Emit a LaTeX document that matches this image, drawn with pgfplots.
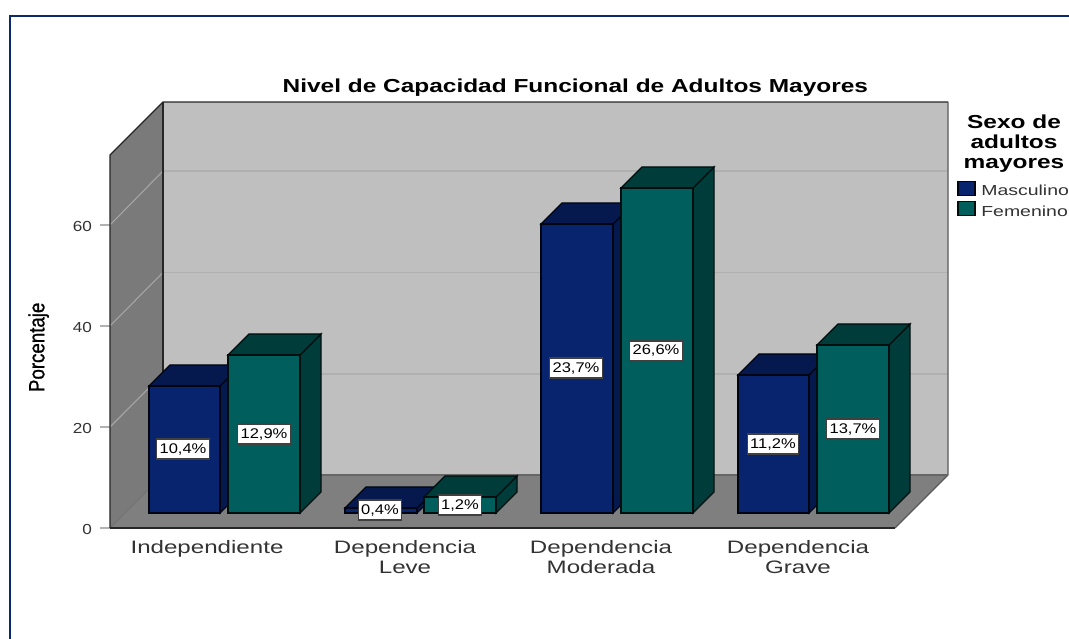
\documentclass[border=0pt]{standalone}
\usepackage{pgfplots}
\pgfplotsset{compat=1.18}
\usepackage{fontspec}
\setmainfont{Liberation Sans}
\newfontfamily\fwide[FakeStretch=1.34]{Liberation Sans}
\newfontfamily\fsmall[FakeStretch=1.18]{Liberation Sans}
\newfontfamily\fbold[FakeStretch=1.3]{Liberation Sans Bold}
\newfontfamily\fnarrow[FakeStretch=0.85,FakeBold=0.9]{Liberation Sans}
\definecolor{wallback}{HTML}{BFBFBF}
\definecolor{wallside}{HTML}{7A7A7A}
\definecolor{floorc}{HTML}{7F7F7F}
\definecolor{mfront}{HTML}{09246F}
\definecolor{mdark}{HTML}{06194F}
\definecolor{ffront}{HTML}{005F5C}
\definecolor{fdark}{HTML}{003C39}
\definecolor{framec}{HTML}{0B2A6E}
\definecolor{txt}{HTML}{333333}
\definecolor{gridc}{HTML}{B0B0B0}
\tikzset{
  mf/.style={fill=mfront,draw=black!85!mfront,line width=1pt},
  md/.style={fill=mdark,draw=black!85!mfront,line width=1pt},
  ff/.style={fill=ffront,draw=black!85!ffront,line width=1pt},
  fd/.style={fill=fdark,draw=black!85!ffront,line width=1pt},
  lab/.style={fill=white,draw=black!75,line width=0.8pt,font=\fontsize{10.5}{12}\fsmall\color{black},inner xsep=2.2pt,inner ysep=0pt,minimum height=15pt},
}
\begin{document}
\begin{tikzpicture}
\path[use as bounding box,fill=white] (0,0) rectangle (801.75pt,478.5pt);
\draw[framec,line width=1.5pt] (7.5pt,-1pt) -- (7.5pt,466.5pt) -- (803pt,466.5pt);
\begin{axis}[
  at={(82.5pt,82.5pt)},anchor=south west,
  scale only axis,width=628.5pt,height=319.5pt,
  xmin=110,xmax=948,ymin=0,ymax=84.36,
  clip=false,
  axis line style={draw=none},
  xtick={207,405,601,798},
  xticklabels={Independiente,Dependencia\\Leve,Dependencia\\Moderada,Dependencia\\Grave},
  x tick label style={align=center,font=\fontsize{13.5}{15}\fwide\color{txt},yshift=1.5pt},
  x tick style={draw=none},
  major tick length=7.5pt,
  tick align=outside,
  xtick pos=bottom,ytick pos=left,
  ytick={0,20,40,60},
  y tick style={draw=black!30,line width=0.8pt},
  y tick label style={font=\fontsize{10.9}{12}\fsmall\color{txt},xshift=-2.5pt,yshift=-1.2pt},
  /pgf/number format/assume math mode=true,
]
% walls and floor
\addplot[fill=wallback,draw=none] coordinates {(163,10.5)(948,10.5)(948,84.36)(163,84.36)} -- cycle;
\addplot[fill=wallside,draw=none] coordinates {(110,0)(163,10.5)(163,84.36)(110,73.86)} -- cycle;
\addplot[fill=floorc,draw=none] coordinates {(110,0)(895,0)(948,10.5)(163,10.5)} -- cycle;
% grid
\addplot[draw=gridc,line width=0.8pt] coordinates {(163,30.5)(948,30.5)};
\addplot[draw=gridc,line width=0.8pt] coordinates {(163,50.6)(948,50.6)};
\addplot[draw=gridc,line width=0.8pt] coordinates {(163,70.7)(948,70.7)};
\addplot[draw=black!35,line width=0.8pt] coordinates {(110,20)(163,30.5)};
\addplot[draw=black!35,line width=0.8pt] coordinates {(110,40)(163,50.6)};
\addplot[draw=black!35,line width=0.8pt] coordinates {(110,60)(163,70.7)};
\addplot[draw=black!55,line width=0.8pt] coordinates {(110,0)(163,10.5)};
% frame edges
\addplot[draw=black!85,line width=1pt] coordinates {(110,0)(110,73.86)(163,84.36)(948,84.36)};
\addplot[draw=black!65,line width=0.9pt] coordinates {(948,84.36)(948,10.5)(895,0)};
\addplot[draw=black!85,line width=1.8pt] coordinates {(163,10.5)(163,84.36)};
\addplot[draw=black!85,line width=1.8pt] coordinates {(110,0)(895,0)};
\addplot[draw=black!60,line width=0.8pt] coordinates {(163,10.5)(948,10.5)};
% Independiente M
\addplot[md] coordinates {(220,2.97)(241,7.13)(241,32.28)(220,28.12)} -- cycle;
\addplot[md] coordinates {(149,28.12)(170,32.28)(241,32.28)(220,28.12)} -- cycle;
\addplot[mf] coordinates {(149,2.97)(220,2.97)(220,28.12)(149,28.12)} -- cycle;
% Independiente F
\addplot[fd] coordinates {(300,2.97)(321,7.13)(321,38.42)(300,34.26)} -- cycle;
\addplot[fd] coordinates {(228,34.26)(249,38.42)(321,38.42)(300,34.26)} -- cycle;
\addplot[ff] coordinates {(228,2.97)(300,2.97)(300,34.26)(228,34.26)} -- cycle;
% Leve M
\addplot[md] coordinates {(417,2.97)(438,7.13)(438,8.12)(417,3.96)} -- cycle;
\addplot[md] coordinates {(345,3.96)(366,8.12)(438,8.12)(417,3.96)} -- cycle;
\addplot[mf] coordinates {(345,2.97)(417,2.97)(417,3.96)(345,3.96)} -- cycle;
% Leve F
\addplot[fd] coordinates {(496,2.97)(517,7.13)(517,10.30)(496,6.14)} -- cycle;
\addplot[fd] coordinates {(424,6.14)(445,10.30)(517,10.30)(496,6.14)} -- cycle;
\addplot[ff] coordinates {(424,2.97)(496,2.97)(496,6.14)(424,6.14)} -- cycle;
% Moderada M
\addplot[md] coordinates {(613,2.97)(634,7.13)(634,64.36)(613,60.20)} -- cycle;
\addplot[md] coordinates {(541,60.20)(562,64.36)(634,64.36)(613,60.20)} -- cycle;
\addplot[mf] coordinates {(541,2.97)(613,2.97)(613,60.20)(541,60.20)} -- cycle;
% Moderada F
\addplot[fd] coordinates {(693,2.97)(714,7.13)(714,71.49)(693,67.33)} -- cycle;
\addplot[fd] coordinates {(621,67.33)(642,71.49)(714,71.49)(693,67.33)} -- cycle;
\addplot[ff] coordinates {(621,2.97)(693,2.97)(693,67.33)(621,67.33)} -- cycle;
% Grave M
\addplot[md] coordinates {(809,2.97)(830,7.13)(830,34.46)(809,30.30)} -- cycle;
\addplot[md] coordinates {(738,30.30)(759,34.46)(830,34.46)(809,30.30)} -- cycle;
\addplot[mf] coordinates {(738,2.97)(809,2.97)(809,30.30)(738,30.30)} -- cycle;
% Grave F
\addplot[fd] coordinates {(889,2.97)(910,7.13)(910,40.40)(889,36.24)} -- cycle;
\addplot[fd] coordinates {(817,36.24)(838,40.40)(910,40.40)(889,36.24)} -- cycle;
\addplot[ff] coordinates {(817,2.97)(889,2.97)(889,36.24)(817,36.24)} -- cycle;
% labels
\node[lab] at (axis cs:183,15.64) {10,4\%};
\node[lab] at (axis cs:264,18.61) {12,9\%};
\node[lab] at (axis cs:380,3.56) {0,4\%};
\node[lab] at (axis cs:460,4.55) {1,2\%};
\node[lab] at (axis cs:576,31.68) {23,7\%};
\node[lab] at (axis cs:656,35.05) {26,6\%};
\node[lab] at (axis cs:773,16.63) {11,2\%};
\node[lab] at (axis cs:853,19.60) {13,7\%};
% legend swatches
\addplot[mf,line width=0.8pt] coordinates {(958,68.7)(975,68.7)(975,65.9)(958,65.9)} -- cycle;
\addplot[ff,line width=0.8pt] coordinates {(958,64.6)(975,64.6)(975,61.8)(958,61.8)} -- cycle;
\end{axis}
% texts, positions in picture points (px*0.75)
\node[font=\fontsize{14.1}{15}\fbold] at (431.5pt,413pt) {Nivel de Capacidad Funcional de Adultos Mayores};
\node[font=\fontsize{14.1}{15}\fbold,align=center] at (760.5pt,371pt) {Sexo de\\adultos\\mayores};
\node[font=\fontsize{10.9}{12}\fwide\color{txt},anchor=west,inner sep=0pt] at (735.75pt,335.5pt) {Masculino};
\node[font=\fontsize{10.9}{12}\fwide\color{txt},anchor=west,inner sep=0pt] at (735.75pt,320pt) {Femenino};
\node[font=\fontsize{16.5}{18}\fnarrow,rotate=90] at (29pt,218pt) {Porcentaje};
\end{tikzpicture}
\end{document}
